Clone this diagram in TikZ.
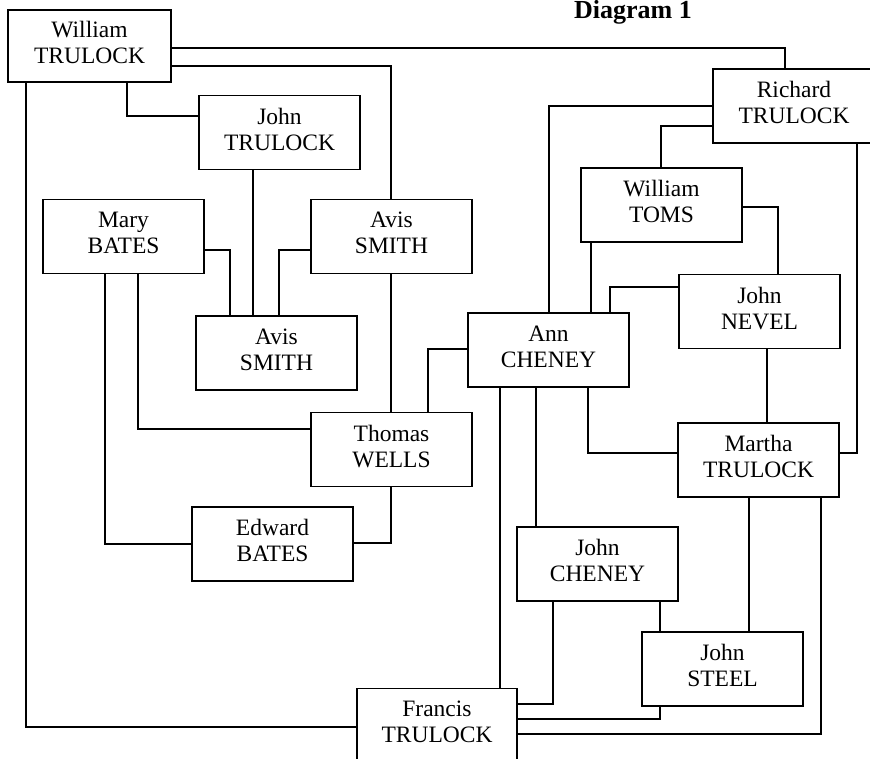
\documentclass[tikz,border=0pt]{standalone}
\usepackage{fontspec}
\setmainfont{Liberation Serif}
\begin{document}
\begin{tikzpicture}[x=1pt,y=-1pt,
  person/.style={draw, line width=1.8pt, minimum width=161pt, minimum height=74pt,
    inner sep=0pt, align=center, text depth=7pt,
    font=\fontsize{23.5}{26}\selectfont},
  link/.style={line width=1.8pt}]
\useasboundingbox (0,0) rectangle (870,759);
\clip (0,0) rectangle (870,759);
\fill[white] (0,0) rectangle (870,759);

\node[font=\bfseries\fontsize{26}{30}\selectfont, anchor=base] (title) at (633,19) {Diagram 1};

\node[person, minimum width=163pt, minimum height=72pt] (WT) at (89.5,46) {William\\TRULOCK};
\node[person] (JT) at (279.5,132.5) {John\\TRULOCK};
\node[person] (MB) at (123.5,236.5) {Mary\\BATES};
\node[person] (ASu) at (391.5,236.5) {Avis\\SMITH};
\node[person] (ASl) at (276.5,353) {Avis\\SMITH};
\node[person] (TW) at (391.5,449.5) {Thomas\\WELLS};
\node[person] (EB) at (272.5,544) {Edward\\BATES};
\node[person, minimum width=162pt] (RT) at (794,106) {Richard\\TRULOCK};
\node[person] (WTo) at (661.5,205) {William\\TOMS};
\node[person] (JN) at (759.5,311.5) {John\\NEVEL};
\node[person] (AC) at (548.5,350) {Ann\\CHENEY};
\node[person] (MT) at (758.5,460) {Martha\\TRULOCK};
\node[person] (JC) at (597.5,564) {John\\CHENEY};
\node[person] (JS) at (722.5,669) {John\\STEEL};
\node[person, minimum width=160pt] (FT) at (437,725.5) {Francis\\TRULOCK};

\draw[link] (WT.east |- 0,48) -| (RT.north -| 785,0);
\draw[link] (WT.east |- 0,66) -| (ASu.north -| 391,0);
\draw[link] (WT.south -| 26,0) |- (FT.west |- 0,727);
\draw[link] (WT.south -| 127,0) |- (JT.west |- 0,116);
\draw[link] (JT.south -| 253,0) -- (ASl.north -| 253,0);
\draw[link] (MB.east |- 0,250) -| (ASl.north -| 230,0);
\draw[link] (ASu.west |- 0,250) -| (ASl.north -| 279,0);
\draw[link] (MB.south -| 105,0) |- (EB.west |- 0,544);
\draw[link] (MB.south -| 138,0) |- (TW.west |- 0,429);
\draw[link] (ASu.south -| 391,0) -- (TW.north -| 391,0);
\draw[link] (TW.south -| 391,0) |- (EB.east |- 0,543);
\draw[link] (TW.north -| 428,0) |- (AC.west |- 0,349);
\draw[link] (RT.west |- 0,106) -| (AC.north -| 549,0);
\draw[link] (RT.west |- 0,126) -| (WTo.north -| 661,0);
\draw[link] (RT.south -| 857,0) |- (MT.east |- 0,453);
\draw[link] (WTo.east |- 0,207) -| (JN.north -| 778,0);
\draw[link] (WTo.south -| 591,0) -- (AC.north -| 591,0);
\draw[link] (JN.west |- 0,287) -| (AC.north -| 610,0);
\draw[link] (JN.south -| 767,0) -- (MT.north -| 767,0);
\draw[link] (AC.south -| 500,0) -- (FT.north -| 500,0);
\draw[link] (AC.south -| 536,0) -- (JC.north -| 536,0);
\draw[link] (AC.south -| 588,0) |- (MT.west |- 0,453);
\draw[link] (MT.south -| 749,0) -- (JS.north -| 749,0);
\draw[link] (MT.south -| 821,0) |- (FT.east |- 0,734);
\draw[link] (JC.south -| 553,0) |- (FT.east |- 0,704);
\draw[link] (JC.south -| 660,0) -- (JS.north -| 660,0);
\draw[link] (JS.south -| 660,0) |- (FT.east |- 0,719);
\end{tikzpicture}
\end{document}
